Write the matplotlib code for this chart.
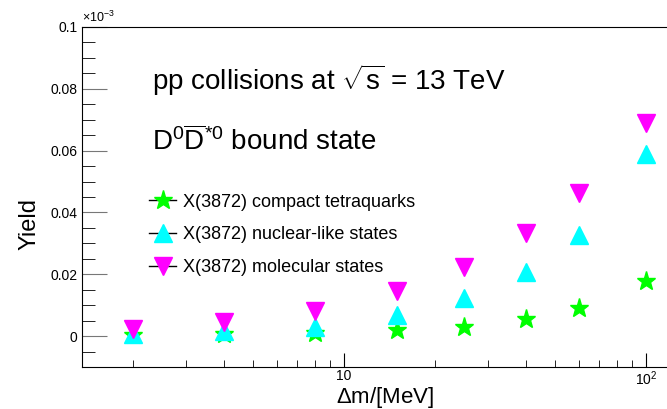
import matplotlib
matplotlib.use("Agg")
import matplotlib.pyplot as plt
from matplotlib.lines import Line2D
from matplotlib.ticker import FixedLocator, MultipleLocator, NullFormatter

plt.rcParams['font.family'] = ['Liberation Sans', 'DejaVu Sans']
plt.rcParams['mathtext.fontset'] = 'custom'
plt.rcParams['mathtext.rm'] = 'Liberation Sans'
plt.rcParams['mathtext.it'] = 'Liberation Sans:italic'

# Delta m [MeV]
dm = [2, 4, 8, 15, 25, 40, 60, 100]
# yields, in units of 1e-3
compact = [0.0004, 0.0006, 0.0009, 0.0019, 0.0030, 0.0055, 0.0090, 0.0178]
nuclear = [0.0006, 0.0017, 0.0031, 0.0068, 0.0122, 0.0207, 0.0326, 0.0588]
molecular = [0.0024, 0.0046, 0.0082, 0.0145, 0.0225, 0.0333, 0.0462, 0.0691]

labels = ["X(3872) compact tetraquarks",
          "X(3872) nuclear-like states",
          "X(3872) molecular states"]
yticks = [0, 0.02, 0.04, 0.06, 0.08, 0.1]
yticklabels = ["0", "0.02", "0.04", "0.06", "0.08", "0.1"]

fig = plt.figure(figsize=(6.67, 4.09), dpi=100)
ax = fig.add_axes([82/667, 42/409, 1 - 82/667, 340/409])

ax.plot(dm, compact, ls="none", marker="*", ms=14, color="#00ff00", mec="#00ff00")
ax.plot(dm, nuclear, ls="none", marker="^", ms=12.5, color="#00ffff", mec="#00ffff")
ax.plot(dm, molecular, ls="none", marker="v", ms=12.5, color="#ff00ff", mec="#ff00ff")

ax.set_xscale("log")
ax.set_xlim(1.357, 117.3)
ax.set_ylim(-0.01, 0.1)

ax.yaxis.set_major_locator(FixedLocator(yticks))
ax.set_yticklabels(yticklabels)
ax.yaxis.set_minor_locator(MultipleLocator(0.005))
ax.tick_params(axis="both", which="both", direction="in", labelsize=10, top=False, right=False)
ax.tick_params(axis="y", which="major", length=18, color="#777777")
ax.tick_params(axis="y", which="minor", length=9)
ax.tick_params(axis="x", which="major", length=10, pad=1.5)
ax.tick_params(axis="x", which="minor", length=5)
ax.xaxis.set_minor_formatter(NullFormatter())
ax.set_xticks([10, 100])
ax.set_xticklabels(["10", "10$^{2}$"])
ax.spines["right"].set_visible(False)

fig.text(82/667, 1 - 17/409, r"$\times$10$^{-3}$", fontsize=9, ha="left", va="center")

ax.text(0.12, 0.844, r"pp collisions at $\sqrt{\mathregular{s}}$ = 13 TeV", transform=ax.transAxes,
        fontsize=20, va="center")
ax.text(0.12, 0.665, r"$\mathregular{D^{0}\overline{D}^{*0}}$ bound state", transform=ax.transAxes,
        fontsize=20, va="center")

fig.text(30/667, 1 - 224/409, "Yield", rotation=90, fontsize=17, ha="center", va="center")
fig.text(385/667, 1 - 397/409, r"$\Delta$m/[MeV]", fontsize=16, ha="center", va="center")

handles = [
    Line2D([], [], color="black", lw=1, marker="*", ms=14, mfc="#00ff00", mec="#00ff00"),
    Line2D([], [], color="black", lw=1, marker="^", ms=12.5, mfc="#00ffff", mec="#00ffff"),
    Line2D([], [], color="black", lw=1, marker="v", ms=12.5, mfc="#ff00ff", mec="#ff00ff"),
]
ax.legend(handles, labels, loc="upper left", bbox_to_anchor=(0.087, 0.558), frameon=False,
          fontsize=13, handlelength=1.5, handletextpad=0.39, labelspacing=0.87)

fig.savefig("out.png", dpi=100)
